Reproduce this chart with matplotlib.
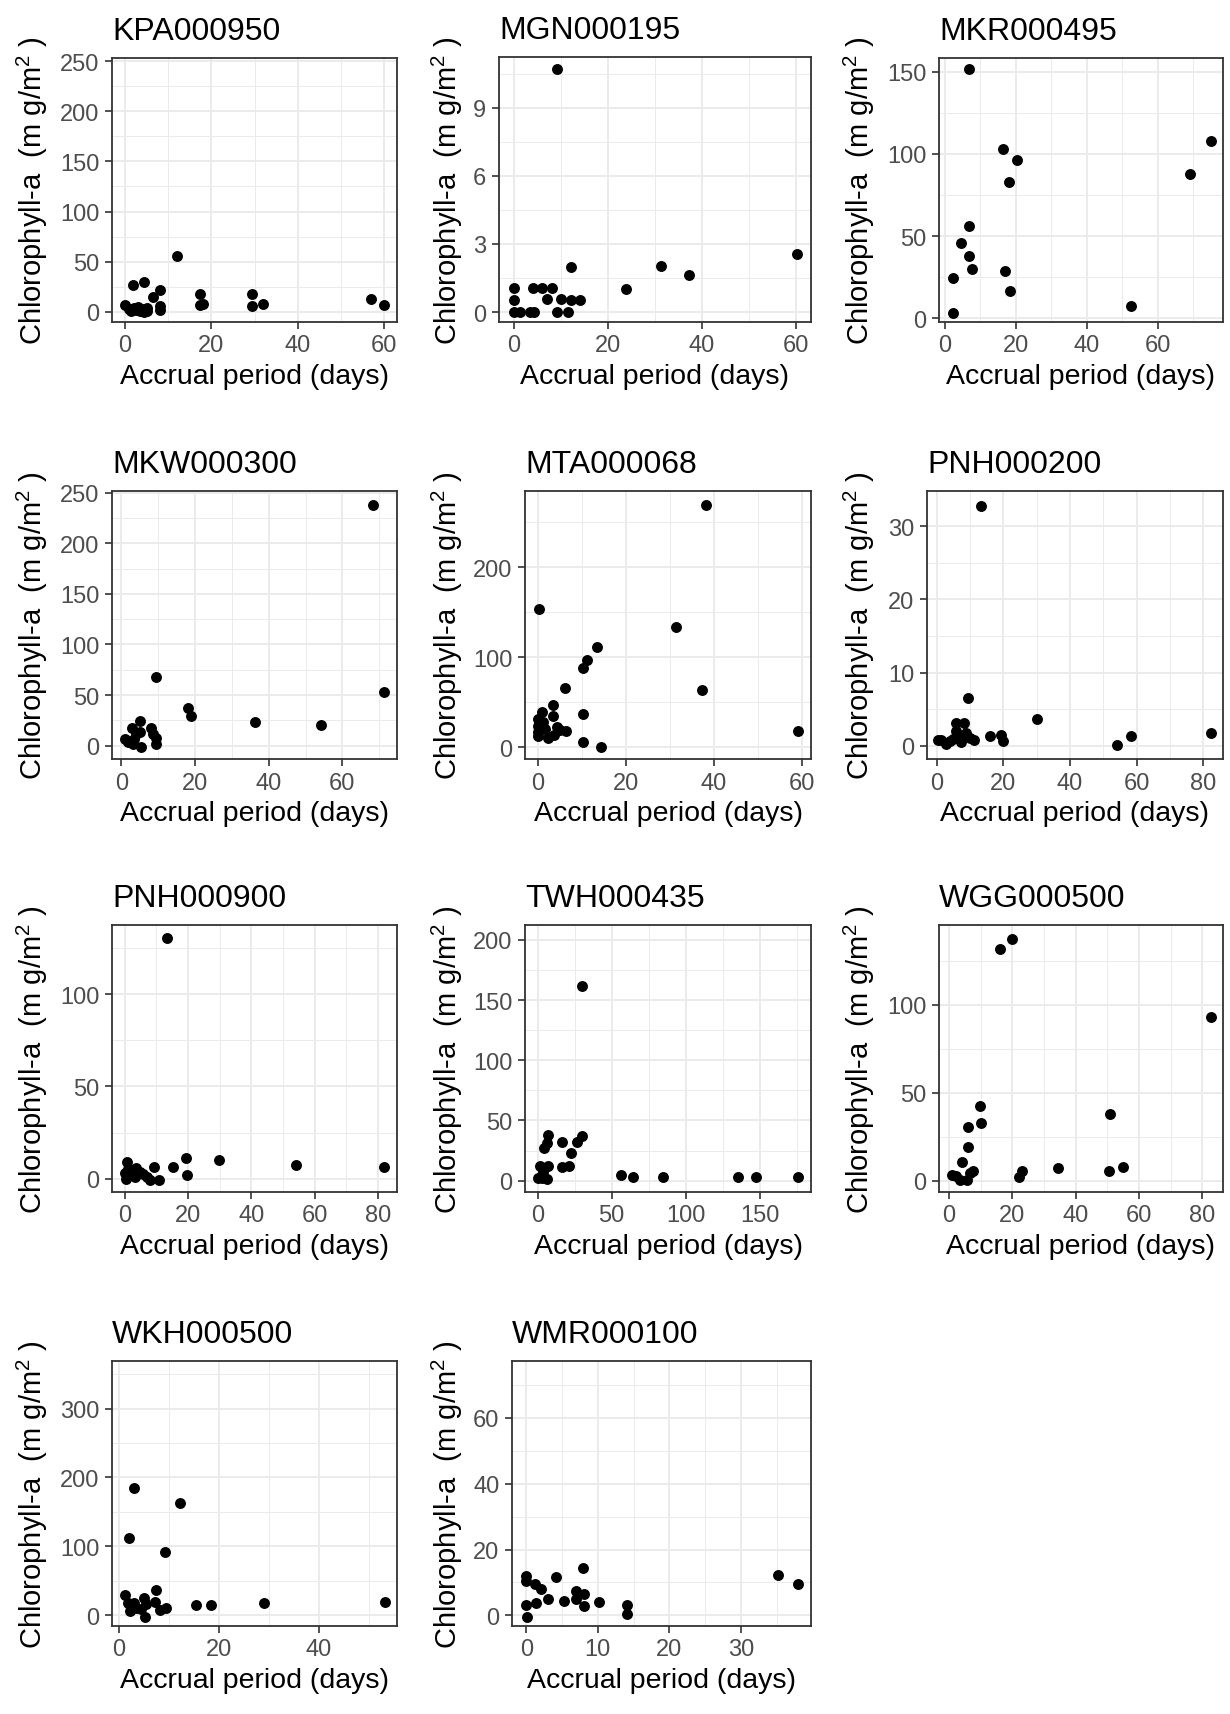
import matplotlib
matplotlib.use('Agg')
import matplotlib.pyplot as plt
from matplotlib.ticker import MultipleLocator

plt.rcParams['font.family'] = ['Liberation Sans', 'DejaVu Sans']
plt.rcParams['mathtext.fontset'] = 'custom'
plt.rcParams['mathtext.rm'] = 'Liberation Sans'
plt.rcParams['mathtext.default'] = 'regular'

# --- data (accrual days, chlorophyll-a mg/m2) ---
kpa_days = [0, 1.9, 1, 1.5, 2, 2.5, 3, 3.5, 4, 4.3, 4.5, 5, 5, 6.6, 8, 8, 8, 12, 17.3, 17.4, 18, 29.4, 29.4, 32, 57, 60]
kpa_chla = [6.6, 27, 3, 1, 4, 2, 5, 1, 3, 30, 0, 1, 4, 15, 21.6, 6, 2, 55.5, 18, 6.6, 8, 17.6, 6, 8.3, 13, 6.6]

mgn_days = [0, 0, 0, 1.2, 3.3, 4.2, 4, 6, 7.1, 8.1, 9.2, 9.2, 10.1, 11.4, 12.1, 12.1, 14, 23.9, 31.2, 37.2, 60.2]
mgn_chla = [1.06, 0.54, 0, 0, 0, 0, 1.06, 1.06, 0.59, 1.06, 10.72, 0, 0.59, 0, 1.98, 0.54, 0.54, 1.03, 2.01, 1.62, 2.57]

mkr_days = [2.3, 2.3, 4.5, 6.7, 6.7, 6.7, 7.8, 16.4, 17.1, 18.1, 18.3, 20.3, 52.3, 69.1, 75]
mkr_chla = [3.3, 24.4, 45.7, 152, 56.1, 37.6, 29.7, 102.8, 28.5, 82.9, 16.5, 96.1, 7.3, 88, 107.9]

mkw_days = [0.9, 1.8, 3, 3.2, 3.6, 4.1, 5.2, 5.4, 5, 8.2, 8.6, 9.5, 9.5, 9.3, 18, 19, 36.3, 54.1, 68.3, 71.2]
mkw_chla = [6.6, 4, 17, 1.6, 6.6, 11.5, 24.7, -1.6, 13, 17, 11.5, 7.2, 1.6, 68, 36.8, 29.6, 23, 20.7, 237.8, 53.3]

mta_days = [0.2, 0, 0, 0, 0, 0.8, 1.1, 1.5, 2.3, 3.3, 3.4, 3.6, 4.2, 4.9, 6.3, 6.2, 10.3, 11.2, 13.3,
            10.3, 10.3, 14.2, 31.3, 37.2, 38.1, 59.2]
mta_chla = [153.7, 31.5, 24, 16.7, 13, 38.9, 27.8, 20.4, 10, 47, 35, 13.7, 22.2, 19.6, 17.8, 66, 88, 97.4, 111.9,
            37, 5.6, 0.7, 133.3, 63.7, 269, 17.8]

pnh2_days = [0.3, 1.3, 2.8, 3.8, 4.8, 5.8, 5.8, 6.8, 7.3, 8, 8.8, 9.4, 9.8, 11, 13.3, 16, 19.3, 20, 30.2, 54.2, 58.2, 82.5]
pnh2_chla = [0.8, 0.8, 0.2, 0.7, 0.9, 3.1, 2, 1.4, 0.5, 3.1, 1.8, 6.5, 1.1, 0.8, 32.8, 1.4, 1.5, 0.7, 3.7, 0.1, 1.4, 1.7]

pnh9_days = [0, 0.3, 0.8, 1, 2.1, 3.2, 3.7, 4.7, 5.8, 6.9, 8.1, 9.2, 10.9, 13.5, 15.3, 19.3, 19.8, 29.8, 54.1, 82]
pnh9_chla = [3, 0, 9, 5.4, 2.7, 0.9, 6, 3.6, 2.7, 0.9, -0.9, 6.3, -0.9, 130.3, 6.3, 11.2, 1.8, 9.9, 7.6, 6.3]

twh_days = [0, 1.6, 2.7, 3.8, 4.5, 6.1, 7.2, 7.2, 6.1, 16.2, 16.2, 21.1, 22.3, 26.3, 29.7, 30.1,
            56, 64.1, 84.3, 135, 147, 175.8]
twh_chla = [2.2, 11.8, 2.2, 6.9, 27, 31.7, 38, 11.8, 1.4, 32.5, 11.3, 11.8, 22.9, 32.5, 37.2, 161.4,
            5, 3, 3, 3, 3, 3]

wgg_days = [0.9, 2.3, 3.4, 4.2, 5.5, 6, 6.1, 6.5, 7.6, 9.7, 10.2, 16, 20, 22, 23, 34.4, 50.4, 50.9, 54.9, 82.8]
wgg_chla = [3.4, 2.5, 0.3, 10.6, 0.4, 19.4, 30.4, 4.3, 5.3, 42.6, 33, 131.7, 137.7, 2.1, 5.3, 7.2, 5.7, 37.7, 8.1, 93]

wkh_days = [1.3, 1.8, 2.1, 2.3, 2.5, 3.1, 3.1, 3.5, 4.5, 5, 5.2, 5.5, 7.4, 7.2, 8.2, 9.2, 9.5, 12.3,
            15.4, 18.4, 29.1, 53.3]
wkh_chla = [29, 18.4, 112.7, 6.3, 16, 185, 18.4, 11, 8.7, 25.6, -2, 16, 36.3, 19.4, 7.7, 92.4, 11, 162.6,
            14.5, 14.5, 17.4, 19.8]

wmr_days = [0, 0, 0, 0.1, 1.2, 1.3, 2.1, 3, 4.1, 5.2, 6.9, 7, 7.9, 8, 8, 10.2, 14.1, 14.1, 35.2, 38]
wmr_chla = [12.1, 10.4, 3.3, -0.4, 9.4, 3.8, 7.9, 4.9, 11.7, 4.4, 7.4, 5.1, 14.5, 6.4, 3, 4.1, 3.3, 0.3, 12.2, 9.4]

site_names = ['KPA000950', 'MGN000195', 'MKR000495', 'MKW000300', 'MTA000068', 'PNH000200',
              'PNH000900', 'TWH000435', 'WGG000500', 'WKH000500', 'WMR000100']
site_days = [kpa_days, mgn_days, mkr_days, mkw_days, mta_days, pnh2_days,
             pnh9_days, twh_days, wgg_days, wkh_days, wmr_days]
site_chla = [kpa_chla, mgn_chla, mkr_chla, mkw_chla, mta_chla, pnh2_chla,
             pnh9_chla, twh_chla, wgg_chla, wkh_chla, wmr_chla]

# axis scales per panel: (xmin, xmax, xstep), (ymin, ymax, ystep)
x_scales = [(-3, 63, 20), (-3.2, 63.2, 20), (-1.6, 78.3, 20), (-2.5, 74.8, 20), (-3.0, 62.1, 20), (-3, 86, 20),
            (-4, 86, 20), (-8.5, 184.4, 50), (-3.2, 86.5, 20), (-1.4, 55.7, 20), (-2.0, 39.8, 10)]
y_scales = [(-10, 253, 50), (-0.44, 11.23, 3), (-2.4, 158.5, 50), (-13.2, 251.6, 50), (-13, 285, 100),
            (-1.8, 34.8, 10), (-7.2, 137.5, 50), (-9.4, 212.4, 50), (-6.4, 145.5, 50), (-15.5, 369, 100),
            (-3.2, 77.2, 20)]

# panel boxes in pixels: left, top, right, bottom
W, H = 1230, 1715
boxes = [(112, 59, 397, 323), (499, 58, 811, 323), (939, 59, 1223, 323),
         (112, 492, 397, 760), (525, 492, 811, 760), (927, 492, 1223, 760),
         (112, 926, 397, 1193), (525, 926, 811, 1193), (939, 926, 1223, 1193),
         (112, 1362, 397, 1627), (512, 1362, 811, 1627)]
ylab_x = [32, 447, 859]

dark = '#333333'
grid = '#EBEBEB'

fig = plt.figure(figsize=(W / 100, H / 100), dpi=100)

for i, name in enumerate(site_names):
    l, t, r, b = boxes[i]
    ax = fig.add_axes([l / W, 1 - b / H, (r - l) / W, (b - t) / H])
    ax.scatter(site_days[i], site_chla[i], s=62, color='black', linewidths=0, zorder=3)

    x0, x1, xs = x_scales[i]
    y0, y1, ys = y_scales[i]
    ax.set_xlim(x0, x1)
    ax.set_ylim(y0, y1)
    ax.xaxis.set_major_locator(MultipleLocator(xs))
    ax.xaxis.set_minor_locator(MultipleLocator(xs / 2))
    ax.yaxis.set_major_locator(MultipleLocator(ys))
    ax.yaxis.set_minor_locator(MultipleLocator(ys / 2))

    ax.set_axisbelow(True)
    ax.grid(which='major', color=grid, linewidth=1.4)
    ax.grid(which='minor', color=grid, linewidth=0.7)
    for sp in ax.spines.values():
        sp.set_color(dark)
        sp.set_linewidth(1.3)
    ax.tick_params(which='major', length=5, width=1.2, color=dark, labelcolor='#4D4D4D',
                   labelsize=17, pad=4)
    ax.tick_params(which='minor', length=0)

    ax.set_title(name, loc='left', fontsize=23, pad=14)
    ax.set_xlabel('Accrual period (days)', fontsize=20.5, labelpad=5)
    col = i % 3
    fig.text(ylab_x[col] / W, 1 - (t + b) / 2 / H, 'Chlorophyll-a  (m g/m$^{2}$ )',
             rotation=90, ha='center', va='center', fontsize=21)

fig.savefig('out.png', dpi=100, facecolor='white')
